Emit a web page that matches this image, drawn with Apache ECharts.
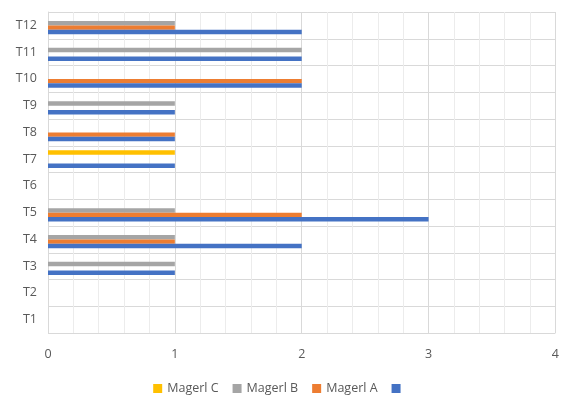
<!DOCTYPE html>
<html>
<head>
<meta charset="utf-8">
<script src="https://cdn.jsdelivr.net/npm/echarts@6/dist/echarts.min.js"></script>
<style>
  html, body { margin: 0; padding: 0; background: #fff; }
  #chart { width: 562px; height: 395px; }
</style>
</head>
<body>
<div id="chart"></div>
<script>
// Categories along the vertical axis, bottom to top
const categories = ['T1', 'T2', 'T3', 'T4', 'T5', 'T6', 'T7', 'T8', 'T9', 'T10', 'T11', 'T12'];

// Series values per category
const unnamedValues = [0, 0, 1, 2, 3, 0, 1, 1, 1, 2, 2, 2];
const magerlA = [0, 0, 0, 1, 2, 0, 0, 1, 0, 2, 0, 1];
const magerlB = [0, 0, 1, 1, 1, 0, 0, 0, 1, 0, 2, 1];
const magerlC = [0, 0, 0, 0, 0, 0, 1, 0, 0, 0, 0, 0];

// Value axis ticks
const valueTicks = [0, 1, 2, 3, 4];

const fontFamily = '"Open Sans", "Noto Sans", sans-serif';
const chart = echarts.init(document.getElementById('chart'));

function barSeries(name, data, color) {
  return {
    name: name,
    type: 'bar',
    data: data,
    barGap: '0%',
    barCategoryGap: '33%',
    itemStyle: { color: color },
    emphasis: { disabled: true }
  };
}

chart.setOption({
  animation: false,
  textStyle: { fontFamily: fontFamily },
  grid: { left: 48, width: 512, top: 12, bottom: 62, containLabel: false },
  legend: {
    top: 377,
    left: 'center',
    itemWidth: 9,
    itemHeight: 9,
    itemGap: 14,
    icon: 'rect',
    textStyle: { color: '#595959', fontSize: 12.5, fontFamily: fontFamily },
    data: ['Magerl C', 'Magerl B', 'Magerl A', ' ']
  },
  xAxis: {
    type: 'value',
    min: valueTicks[0],
    max: valueTicks[valueTicks.length - 1],
    interval: 1,
    axisLine: { show: false },
    axisTick: { show: false },
    axisLabel: { color: '#595959', fontSize: 12.5, margin: 15 },
    splitLine: { show: true, lineStyle: { color: '#d9d9d9', width: 1 } },
    minorTick: { show: false, splitNumber: 5 },
    minorSplitLine: { show: true, lineStyle: { color: '#ececec', width: 1 } }
  },
  yAxis: {
    type: 'category',
    data: categories,
    axisLine: { show: true, lineStyle: { color: '#d9d9d9' } },
    axisTick: { show: false },
    axisLabel: { color: '#595959', fontSize: 12.5, margin: 11 },
    splitLine: { show: true, lineStyle: { color: '#d9d9d9', width: 1 } }
  },
  // Within a category the first series sits at the top of the band
  series: [
    barSeries('Magerl C', magerlC, '#FFC000'),
    barSeries('Magerl B', magerlB, '#A5A5A5'),
    barSeries('Magerl A', magerlA, '#ED7D31'),
    barSeries(' ', unnamedValues, '#4472C4')
  ]
});
</script>
</body>
</html>
